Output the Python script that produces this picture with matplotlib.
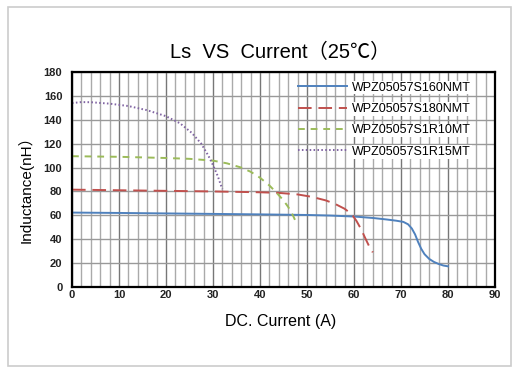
import numpy as np
import matplotlib
matplotlib.use('Agg')
from matplotlib import pyplot as plt
from matplotlib.patches import Rectangle

plt.rcParams['font.family'] = ['Liberation Sans', 'Noto Sans CJK SC', 'DejaVu Sans']

names = ['WPZ05057S160NMT', 'WPZ05057S180NMT', 'WPZ05057S1R10MT', 'WPZ05057S1R15MT']

i_160 = [0, 10, 20, 30, 40, 50, 55, 60, 64, 67, 69, 70.5, 71.5, 72.3, 73, 73.6, 74.3, 75, 76, 77, 78, 79, 80]
l_160 = [62.3, 62, 61.6, 61.2, 60.8, 60.3, 59.8, 59, 57.8, 56.5, 55.5, 54.5, 52.5, 49, 44, 38, 32, 27.5, 23.5, 21, 19.3, 18, 17.3]

i_180 = [0, 10, 20, 30, 40, 44, 48, 51, 54, 56, 58, 59.5, 60.5, 61.5, 62.5, 63.3, 64]
l_180 = [81.5, 81, 80.5, 80, 79.3, 78.8, 77.5, 75.5, 72.5, 69.5, 65.5, 61, 55.5, 48.5, 40, 33.5, 29]

i_1r10 = [0, 10, 20, 25, 30, 33, 36, 38, 40, 42, 43.5, 45, 46, 47, 47.7]
l_1r10 = [109.5, 109, 108, 107.3, 105.8, 103.5, 100, 96.5, 91.5, 85, 79, 72.5, 67, 60, 54]

i_1r15 = [0, 2, 4, 8, 12, 16, 20, 23, 25.5, 27.5, 29, 30, 31, 31.7, 32]
l_1r15 = [154, 154.8, 154.7, 153.5, 151.5, 148, 143, 137, 129, 120, 110, 102, 93, 85, 82]

x_ticks = list(range(0, 91, 10))
y_ticks = list(range(0, 181, 20))

fig = plt.figure(figsize=(5.12, 3.68), dpi=100)
fig.patches.append(Rectangle((8/512, 2/368), 503/512, 359/368, transform=fig.transFigure,
                             fill=False, edgecolor='#cccccc', lw=1.2))
ax = fig.add_axes([72/512, 81/368, 423/512, 215/368])

ax.set_xlim(0, 90)
ax.set_ylim(0, 180)
ax.set_xticks(x_ticks)
ax.set_yticks(y_ticks)
ax.set_xticks(np.arange(0, 91, 2), minor=True)
ax.grid(True, which='major', axis='x', color='#777777', lw=1.0)
ax.grid(True, which='minor', axis='x', color='#aaaaaa', lw=1.0)
ax.grid(True, which='major', axis='y', color='#999999', lw=1.0)
ax.set_axisbelow(True)
ax.tick_params(which='both', length=0)
ax.tick_params(axis='x', pad=2, labelsize=8)
ax.tick_params(axis='y', pad=7, labelsize=8)
for t in ax.get_xticklabels() + ax.get_yticklabels():
    t.set_fontweight('bold')
    t.set_color('#222222')
for s in ax.spines.values():
    s.set_linewidth(1.6)
    s.set_color('black')

lw = 1.4
ax.plot(i_160, l_160, color='#4F81BD', lw=lw, label=names[0])
ax.plot(i_180, l_180, color='#C0504D', lw=lw, dashes=(7, 3.5), label=names[1])
ax.plot(i_1r10, l_1r10, color='#9BBB59', lw=lw, dashes=(3.5, 3), label=names[2])
ax.plot(i_1r15, l_1r15, color='#8064A2', lw=lw, dashes=(0.8, 1.2), label=names[3])

leg = ax.legend(loc='upper left', bbox_to_anchor=(0.534, 0.955), frameon=False,
                fontsize=9, handlelength=3.9, handletextpad=0.45, labelspacing=0.75,
                borderpad=0, borderaxespad=0)
for t in leg.get_texts():
    t.set_bbox(dict(facecolor='white', edgecolor='none', pad=0.5))

fig.text(0.548, 0.858, 'Ls  VS  Current（25℃）', ha='center', va='center', fontsize=14.5)
fig.text(0.549, 0.126, 'DC. Current (A)', ha='center', va='center', fontsize=11.5)
fig.text(0.049, 0.495, 'Inductance(nH）', ha='center', va='center', rotation=90, fontsize=11)

fig.savefig('out.png', dpi=100)
